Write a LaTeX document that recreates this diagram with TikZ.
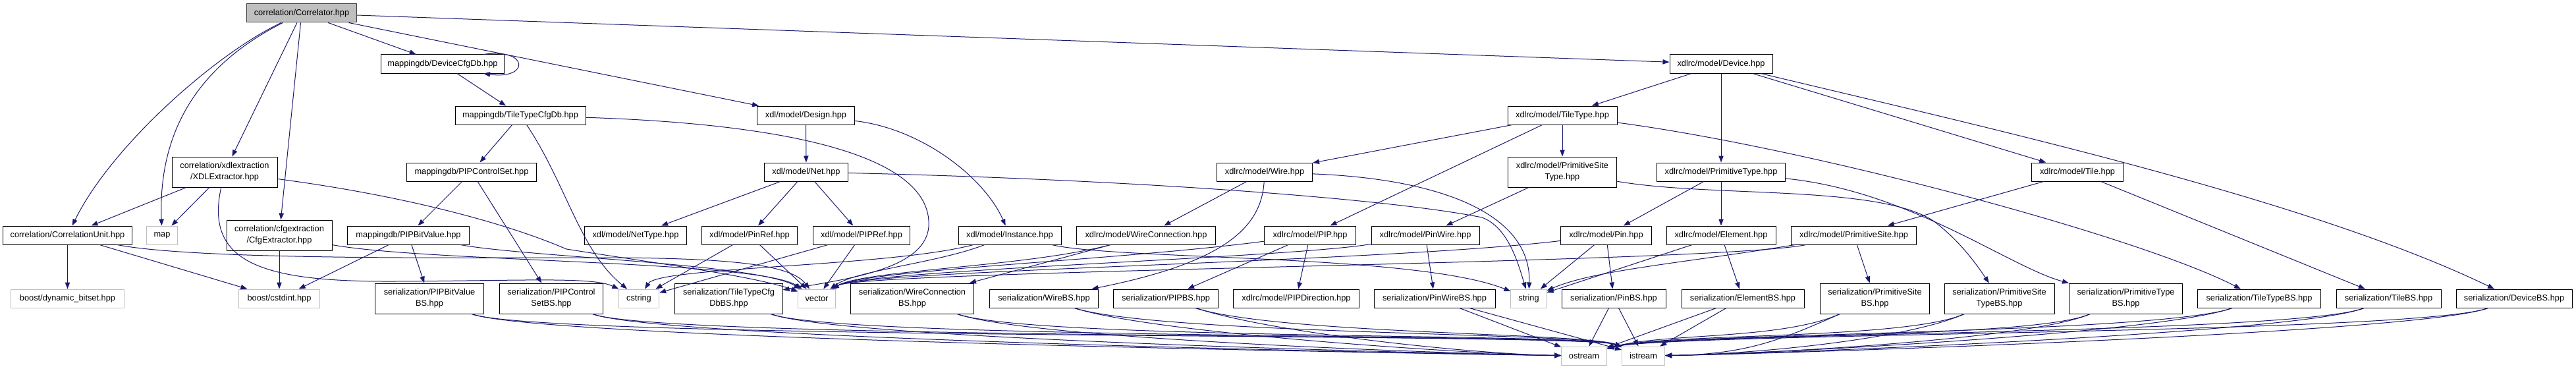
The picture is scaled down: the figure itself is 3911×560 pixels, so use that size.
\documentclass[tikz,border=0pt]{standalone}
\usepackage{fontspec}
\setmainfont{Liberation Sans}
\usepackage{xcolor}
\usepackage{tikz}
\usetikzlibrary{arrows.meta,calc}
\definecolor{edgeblue}{HTML}{191970}
\definecolor{rootgray}{HTML}{BFBFBF}
\definecolor{sysgray}{HTML}{BFBFBF}
\definecolor{rootline}{HTML}{404040}
\tikzset{
  header/.style={draw=black, fill=white, align=center, inner sep=0pt, minimum height=21pt, line width=0.75pt},
  twoline/.style={minimum height=34.5pt},
  sysheader/.style={header, draw=sysgray},
  mainheader/.style={header, draw=rootline, fill=rootgray},
  incarrow/.style={-{Triangle[length=7.5pt, width=5.5pt]}, line width=0.75pt, draw=edgeblue}
}

\begin{document}
\begin{tikzpicture}[x=0.75pt, y=-0.75pt, font=\fontsize{9.6}{12.75}\selectfont]
  \path[use as bounding box, fill=white] (0,0) rectangle (3911,560);

  % row 0 - 2
  \node[mainheader, minimum width=125.3pt] (cor) at (458,20) {correlation/Correlator.hpp};
  \node[header, minimum width=140.3pt] (devcfgdb) at (672,97) {mappingdb/DeviceCfgDb.hpp};
  \node[header, minimum width=117pt] (device) at (2613,97) {xdlrc/model/Device.hpp};
  \node[header, minimum width=148.5pt] (ttcfg) at (790,175) {mappingdb/TileTypeCfgDb.hpp};
  \node[header, minimum width=110.3pt] (design) at (1223.5,175) {xdl/model/Design.hpp};
  \node[header, minimum width=124.5pt] (tiletype) at (2372,175) {xdlrc/model/TileType.hpp};

  % row 3
  \node[header, twoline, minimum width=120pt] (xdlext) at (341,261) {correlation/xdlextraction\\/XDLExtractor.hpp};
  \node[header, minimum width=147.8pt] (pipctl) at (716,261) {mappingdb/PIPControlSet.hpp};
  \node[header, minimum width=95.6pt] (net) at (1224,261) {xdl/model/Net.hpp};
  \node[header, minimum width=108.8pt] (wire) at (1920,261) {xdlrc/model/Wire.hpp};
  \node[header, twoline, minimum width=123.8pt] (primsitetype) at (2372,261) {xdlrc/model/PrimitiveSite\\Type.hpp};
  \node[header, minimum width=146.3pt] (primtype) at (2613,261) {xdlrc/model/PrimitiveType.hpp};
  \node[header, minimum width=104.3pt] (tile) at (3154,261) {xdlrc/model/Tile.hpp};

  % row 4
  \node[header, minimum width=147.5pt] (corrunit) at (102.5,357) {correlation/CorrelationUnit.hpp};
  \node[sysheader, minimum width=35.3pt] (map) at (246,357) {map};
  \node[header, twoline, minimum width=120pt] (cfgext) at (424,357) {correlation/cfgextraction\\/CfgExtractor.hpp};
  \node[header, minimum width=138.8pt] (pipbitval) at (620,357) {mappingdb/PIPBitValue.hpp};
  \node[header, minimum width=115.9pt] (nettype) at (965,357) {xdl/model/NetType.hpp};
  \node[header, minimum width=109.2pt] (pinref) at (1138,357) {xdl/model/PinRef.hpp};
  \node[header, minimum width=110.3pt] (pipref) at (1308,357) {xdl/model/PIPRef.hpp};
  \node[header, minimum width=117pt] (instance) at (1533,357) {xdl/model/Instance.hpp};
  \node[header, minimum width=157.9pt] (wireconn) at (1740,357) {xdlrc/model/WireConnection.hpp};
  \node[header, minimum width=104pt] (pip) at (1989,357) {xdlrc/model/PIP.hpp};
  \node[header, minimum width=123pt] (pinwire) at (2164,357) {xdlrc/model/PinWire.hpp};
  \node[header, minimum width=103.2pt] (pin) at (2438.5,357) {xdlrc/model/Pin.hpp};
  \node[header, minimum width=124.5pt] (element) at (2613,357) {xdlrc/model/Element.hpp};
  \node[header, minimum width=143pt] (primsite) at (2814.5,357) {xdlrc/model/PrimitiveSite.hpp};

  % row 5
  \node[sysheader, minimum width=128.6pt] (dynbitset) at (102.5,453) {boost/dynamic\_bitset.hpp};
  \node[sysheader, minimum width=92.3pt] (cstdint) at (424,453) {boost/cstdint.hpp};
  \node[header, twoline, minimum width=124.1pt] (pipbitvalbs) at (652,453) {serialization/PIPBitValue\\BS.hpp};
  \node[header, twoline, minimum width=118pt] (pipctlbs) at (837,453) {serialization/PIPControl\\SetBS.hpp};
  \node[sysheader, minimum width=46pt] (cstring) at (970,453) {cstring};
  \node[header, twoline, minimum width=122.3pt] (ttcfgbs) at (1106.5,453) {serialization/TileTypeCfg\\DbBS.hpp};
  \node[sysheader, minimum width=42.3pt] (vector) at (1240,453) {vector};
  \node[header, twoline, minimum width=140.3pt] (wireconnbs) at (1385,453) {serialization/WireConnection\\BS.hpp};
  \node[header, minimum width=124pt] (wirebs) at (1585,453) {serialization/WireBS.hpp};
  \node[header, minimum width=119pt] (pipbs) at (1770,453) {serialization/PIPBS.hpp};
  \node[header, minimum width=143pt] (pipdir) at (1968,453) {xdlrc/model/PIPDirection.hpp};
  \node[header, minimum width=138pt] (pinwirebs) at (2178,453) {serialization/PinWireBS.hpp};
  \node[sysheader, minimum width=40.7pt] (string) at (2321,453) {string};
  \node[header, minimum width=118.5pt] (pinbs) at (2450,453) {serialization/PinBS.hpp};
  \node[header, minimum width=139.5pt] (elementbs) at (2646,453) {serialization/ElementBS.hpp};
  \node[header, twoline, minimum width=124.5pt] (primsitebs) at (2846.5,453) {serialization/PrimitiveSite\\BS.hpp};
  \node[header, twoline, minimum width=125.3pt] (primsitetypebs) at (3035.5,453) {serialization/PrimitiveSite\\TypeBS.hpp};
  \node[header, twoline, minimum width=129pt] (primtypebs) at (3227.5,453) {serialization/PrimitiveType\\BS.hpp};
  \node[header, minimum width=140.3pt] (tiletypebs) at (3430,453) {serialization/TileTypeBS.hpp};
  \node[header, minimum width=119.3pt] (tilebs) at (3626.5,453) {serialization/TileBS.hpp};
  \node[header, minimum width=132pt] (devicebs) at (3817,453) {serialization/DeviceBS.hpp};

  % row 6
  \node[sysheader, minimum width=51.5pt] (ostream) at (2405,540) {ostream};
  \node[sysheader, minimum width=48.9pt] (istream) at (2495,540) {istream};

  % Correlator.hpp
  \draw[incarrow] (cor) .. controls (330,80) and (170,220) .. (corrunit);
  \draw[incarrow] (cor) .. controls (300,100) and (240,200) .. (map);
  \draw[incarrow] (cor) -- (xdlext);
  \draw[incarrow] (cor) -- (cfgext);
  \draw[incarrow] (cor) -- (devcfgdb);
  \draw[incarrow] (cor) -- (design);
  \draw[incarrow] (cor) -- (device);

  % correlation
  \draw[incarrow] (xdlext) -- (corrunit);
  \draw[incarrow] (xdlext) -- (map);
  \draw[incarrow] (xdlext) .. controls (310,400) and (400,428) .. (600,427) .. controls (800,426) and (900,420) .. (cstring);
  \draw[incarrow] (xdlext) .. controls (600,295) and (760,335) .. (860,378) .. controls (1000,400) and (1150,420) .. (vector);
  \draw[incarrow] (corrunit) -- (dynbitset);
  \draw[incarrow] (corrunit) -- (cstdint);
  \draw[incarrow] (corrunit) .. controls (300,395) and (700,391) .. (900,391) .. controls (1100,391) and (1200,400) .. (vector);
  \draw[incarrow] (cfgext) -- (cstdint);
  \draw[incarrow] (cfgext) .. controls (650,398) and (1150,395) .. (vector);

  % mappingdb
  \draw[incarrow] ([xshift=-24pt]devcfgdb.north east) .. controls +(70,-10) and +(70,10) .. ([xshift=-24pt]devcfgdb.south east);
  \draw[incarrow] (devcfgdb) -- (ttcfg);
  \draw[incarrow] (ttcfg) -- (pipctl);
  \draw[incarrow] (ttcfg) .. controls (860,280) and (880,380) .. (cstring);
  \draw[incarrow] (ttcfg) .. controls (1250,190) and (1405,250) .. (1410,335) .. controls (1415,405) and (1300,422) .. (ttcfgbs);
  \draw[incarrow] (pipctl) -- (pipbitval);
  \draw[incarrow] (pipctl) -- (pipctlbs);
  \draw[incarrow] (pipbitval) -- (cstdint);
  \draw[incarrow] (pipbitval) -- (pipbitvalbs);
  \draw[incarrow] (pipbitval) .. controls (800,390) and (1150,400) .. (vector);

  % xdl model
  \draw[incarrow] (design) -- (net);
  \draw[incarrow] (design) .. controls (1400,195) and (1495,270) .. (instance);
  \draw[incarrow] (net) -- (nettype);
  \draw[incarrow] (net) -- (pinref);
  \draw[incarrow] (net) -- (pipref);
  \draw[incarrow] (net) .. controls (1700,272) and (2100,300) .. (2250,330) .. controls (2290,345) and (2305,400) .. (string);
  \draw[incarrow] (pinref) -- (cstring);
  \draw[incarrow] (pinref) -- (vector);
  \draw[incarrow] (pipref) -- (cstring);
  \draw[incarrow] (pipref) -- (vector);
  \draw[incarrow] (instance) .. controls (1350,405) and (1000,405) .. (cstring);
  \draw[incarrow] (instance) .. controls (1420,400) and (1300,410) .. (vector);
  \draw[incarrow] (instance) .. controls (1700,395) and (2150,385) .. (string);

  % xdlrc model
  \draw[incarrow] (device) -- (tiletype);
  \draw[incarrow] (device) -- (primtype);
  \draw[incarrow] (device) -- (tile);
  \draw[incarrow] (device) .. controls (3000,190) and (3500,300) .. (devicebs);
  \draw[incarrow] (tiletype) -- (wire);
  \draw[incarrow] (tiletype) -- (pip);
  \draw[incarrow] (tiletype) -- (primsitetype);
  \draw[incarrow] (tiletype) .. controls (2750,225) and (3250,360) .. (tiletypebs);
  \draw[incarrow] (wire) -- (wireconn);
  \draw[incarrow] (wire) .. controls (1915,350) and (1850,400) .. (wirebs);
  \draw[incarrow] (wire) .. controls (2200,272) and (2325,330) .. (string);
  \draw[incarrow] (wireconn) -- (wireconnbs);
  \draw[incarrow] (wireconn) .. controls (1560,405) and (1310,410) .. (vector);
  \draw[incarrow] (pip) -- (pipbs);
  \draw[incarrow] (pip) -- (pipdir);
  \draw[incarrow] (pip) .. controls (1700,395) and (1310,410) .. (vector);
  \draw[incarrow] (primsitetype) -- (pinwire);
  \draw[incarrow] (primsitetype) .. controls (2600,300) and (2850,280) .. (2935,335) .. controls (2975,365) and (3000,400) .. (primsitetypebs);
  \draw[incarrow] (pinwire) -- (pinwirebs);
  \draw[incarrow] (pinwire) .. controls (1950,392) and (1310,410) .. (vector);
  \draw[incarrow] (primtype) -- (pin);
  \draw[incarrow] (primtype) -- (element);
  \draw[incarrow] (primtype) .. controls (2900,290) and (3050,405) .. (primtypebs);
  \draw[incarrow] (pin) -- (string);
  \draw[incarrow] (pin) -- (pinbs);
  \draw[incarrow] (pin) .. controls (2100,398) and (1310,410) .. (vector);
  \draw[incarrow] (element) -- (string);
  \draw[incarrow] (element) -- (elementbs);
  \draw[incarrow] (tile) -- (primsite);
  \draw[incarrow] (tile) -- (tilebs);
  \draw[incarrow] (primsite) -- (primsitebs);
  \draw[incarrow] (primsite) .. controls (2550,400) and (2420,410) .. (string);
  \draw[incarrow] (primsite) .. controls (2600,400) and (1310,410) .. (vector);

  % serialization -> streams
  \foreach \bs in {pipbitvalbs,pipctlbs,ttcfgbs,wireconnbs,wirebs,pipbs}{
    \draw[incarrow] (\bs) .. controls ($(\bs.south east)+(90,40)$) and (2250,538) .. (ostream);
    \draw[incarrow] (\bs) .. controls ($(\bs.south east)+(90,40)$) and (2410,505) .. (istream);
  }
  \foreach \bs in {primsitebs,primsitetypebs,primtypebs,tiletypebs,tilebs,devicebs}{
    \draw[incarrow] (\bs) .. controls ($(\bs.south west)+(-60,40)$) and (2650,538) .. (istream);
    \draw[incarrow] (\bs) .. controls ($(\bs.south west)+(-60,40)$) and (2520,505) .. (ostream);
  }
  \draw[incarrow] (pinwirebs) -- (ostream);
  \draw[incarrow] (pinwirebs) -- (istream);
  \draw[incarrow] (pinbs) -- (ostream);
  \draw[incarrow] (pinbs) -- (istream);
  \draw[incarrow] (elementbs) -- (ostream);
  \draw[incarrow] (elementbs) -- (istream);
\end{tikzpicture}
\end{document}
